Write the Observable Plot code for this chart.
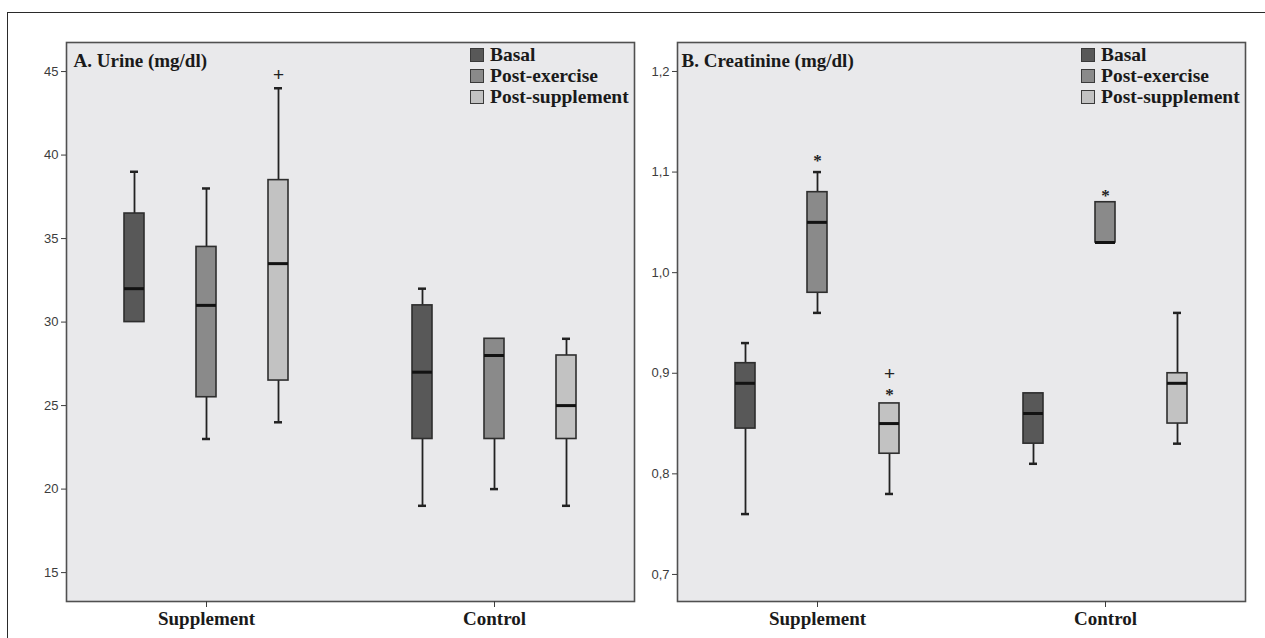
<!DOCTYPE html>
<html>
<head>
<meta charset="utf-8">
<script src="https://cdn.jsdelivr.net/npm/d3@7"></script>
<script src="https://cdn.jsdelivr.net/npm/@observablehq/plot@0.6"></script>
<style>
  html, body { margin: 0; padding: 0; background: #fff; }
  #wrap { position: relative; width: 1265px; height: 638px; overflow: hidden; }
  #border { position: absolute; left: 7px; top: 12px; right: -2px; bottom: -2px; border-top: 1.5px solid #2a2a2a; border-left: 1.5px solid #2a2a2a; }
  .panel { position: absolute; top: 0; }
  .legend { position: absolute; font-family: "Liberation Serif", "Times New Roman", serif; font-weight: bold; font-size: 19.5px; color: #1a1a1a; }
  .legend .row { display: flex; align-items: center; height: 21.3px; white-space: nowrap; }
  .legend .sw { width: 12px; height: 12px; border: 1px solid #3a3a3a; margin-right: 6px; flex: none; }
</style>
</head>
<body>
<div id="wrap">
  <div id="border"></div>
  <div id="left" class="panel" style="left:0px"></div>
  <div id="right" class="panel" style="left:640px"></div>
  <div id="legL" class="legend" style="left:470px; top:44px"></div>
  <div id="legR" class="legend" style="left:1081px; top:44px"></div>
</div>
<script>
// ---- data ----
const groups = ["Supplement", "Control"];
const series = ["Basal", "Post-exercise", "Post-supplement"];
const seriesColors = ["#585858", "#8a8a8a", "#c2c2c2"];

// order: Supplement(Basal, Post-exercise, Post-supplement), Control(Basal, Post-exercise, Post-supplement)
const urineMin    = [30, 23, 24, 19, 20, 19];
const urineQ1     = [30, 25.5, 26.5, 23, 23, 23];
const urineMedian = [32, 31, 33.5, 27, 28, 25];
const urineQ3     = [36.5, 34.5, 38.5, 31, 29, 28];
const urineMax    = [39, 38, 44, 32, 29, 29];
const urineTicks  = [15, 20, 25, 30, 35, 40, 45];
const urineNotes  = [
  {group: "Supplement", series: "Post-supplement", value: 44.8, symbol: "+"}
];

const creatMin    = [0.76, 0.96, 0.78, 0.81, 1.03, 0.83];
const creatQ1     = [0.845, 0.98, 0.82, 0.83, 1.03, 0.85];
const creatMedian = [0.89, 1.05, 0.85, 0.86, 1.03, 0.89];
const creatQ3     = [0.91, 1.08, 0.87, 0.88, 1.07, 0.90];
const creatMax    = [0.93, 1.10, 0.87, 0.88, 1.07, 0.96];
const creatTicks  = [0.7, 0.8, 0.9, 1.0, 1.1, 1.2];
const creatNotes  = [
  {group: "Supplement", series: "Post-exercise", value: 1.115, symbol: "*"},
  {group: "Supplement", series: "Post-supplement", value: 0.899, symbol: "+"},
  {group: "Supplement", series: "Post-supplement", value: 0.883, symbol: "*"},
  {group: "Control", series: "Post-exercise", value: 1.081, symbol: "*"}
];

// ---- helpers ----
const key = (g, s) => g + "|" + s;
const xDomain = [...series.map(s => key(groups[0], s)), "gap", ...series.map(s => key(groups[1], s))];

function buildRows(mn, q1, md, q3, mx) {
  return groups.flatMap((g, gi) => series.map((s, si) => {
    const i = gi * series.length + si;
    return {key: key(g, s), group: g, series: s, min: mn[i], q1: q1[i], median: md[i], q3: q3[i], max: mx[i]};
  }));
}

const serif = '"Liberation Serif", "Times New Roman", serif';
const sans = '"Liberation Sans", Arial, sans-serif';

function panel({rows, notes, ticks, yDomain, title, titleDx, width, marginLeft, marginRight, tickFormat}) {
  const noteData = notes.map(n => ({...n, key: key(n.group, n.series)}));
  return Plot.plot({
    width, height: 638,
    marginLeft, marginRight, marginTop: 42, marginBottom: 37,
    style: {background: "transparent", overflow: "visible"},
    x: {type: "band", domain: xDomain, paddingInner: 0.726, paddingOuter: 0.7535},
    y: {domain: yDomain},
    color: {domain: series, range: seriesColors},
    marks: [
      Plot.frame({fill: "#e9e9eb", stroke: null}),
      Plot.ruleX(rows.filter(d => d.min < d.q1), {x: "key", y1: "min", y2: "q1", stroke: "#222", strokeWidth: 1.8}),
      Plot.ruleX(rows.filter(d => d.max > d.q3), {x: "key", y1: "q3", y2: "max", stroke: "#222", strokeWidth: 1.8}),
      Plot.barY(rows, {x: "key", y1: "q1", y2: "q3", fill: "series", stroke: "#2e2e2e", strokeWidth: 1.6}),
      Plot.tickY(rows, {x: "key", y: "median", stroke: "#121212", strokeWidth: 3}),
      Plot.tickY(rows.filter(d => d.min < d.q1), {x: "key", y: "min", stroke: "#222", strokeWidth: 2.5, insetLeft: 6, insetRight: 6}),
      Plot.tickY(rows.filter(d => d.max > d.q3), {x: "key", y: "max", stroke: "#222", strokeWidth: 2.5, insetLeft: 6, insetRight: 6}),
      Plot.text(noteData.filter(d => d.symbol === "+"), {x: "key", y: "value", text: "symbol", fontFamily: sans, fontSize: 19, fill: "#222"}),
      Plot.text(noteData.filter(d => d.symbol === "*"), {x: "key", y: "value", text: "symbol", fontFamily: serif, fontWeight: "bold", fontSize: 17, fill: "#222", dy: 4}),
      Plot.text([title], {frameAnchor: "top-left", text: d => d, dx: titleDx, dy: 11, lineAnchor: "top", fontFamily: serif, fontWeight: "bold", fontSize: 19, fill: "#1a1a1a"}),
      Plot.frame({stroke: "#505050", strokeWidth: 1.6}),
      Plot.axisY({ticks, tickFormat, tickSize: 5, tickPadding: 3, label: null, fontFamily: sans, fontSize: 13, fill: "#3c3c3c", stroke: "#3c3c3c"}),
      Plot.axisX({ticks: groups.map(g => key(g, series[1])), tickFormat: d => d.split("|")[0], tickSize: 6, tickPadding: 4, label: null, fontFamily: serif, fontWeight: "bold", fontSize: 19, fill: "#1a1a1a", stroke: "#3c3c3c"})
    ]
  });
}

document.getElementById("left").append(panel({
  rows: buildRows(urineMin, urineQ1, urineMedian, urineQ3, urineMax),
  notes: urineNotes, ticks: urineTicks, yDomain: [13.27, 46.74],
  title: "A. Urine (mg/dl)", titleDx: 7,
  width: 640, marginLeft: 66, marginRight: 6,
  tickFormat: d => String(d)
}));

document.getElementById("right").append(panel({
  rows: buildRows(creatMin, creatQ1, creatMedian, creatQ3, creatMax),
  notes: creatNotes, ticks: creatTicks, yDomain: [0.6731, 1.2288],
  title: "B. Creatinine (mg/dl)", titleDx: 4,
  width: 625, marginLeft: 37, marginRight: 20,
  tickFormat: d => d.toFixed(1).replace(".", ",")
}));

for (const id of ["legL", "legR"]) {
  const el = document.getElementById(id);
  series.forEach((s, i) => {
    const row = document.createElement("div");
    row.className = "row";
    const sw = document.createElement("span");
    sw.className = "sw";
    sw.style.background = seriesColors[i];
    const lab = document.createElement("span");
    lab.textContent = s;
    row.append(sw, lab);
    el.append(row);
  });
}
</script>
</body>
</html>
